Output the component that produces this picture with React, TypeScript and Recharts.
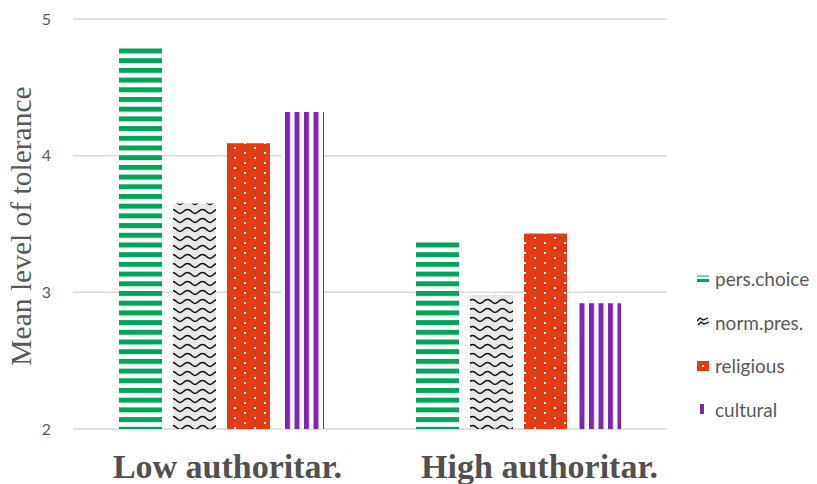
import React from 'react';
import { BarChart, Bar, XAxis, YAxis, CartesianGrid, Legend } from 'recharts';

const groups = ['Low authoritar.', 'High authoritar.'];
const persChoice = [4.8, 3.37];
const normPres = [3.65, 2.98];
const religious = [4.09, 3.43];
const cultural = [4.32, 2.92];
const yTicks = [2, 3, 4, 5];

const series = [
  { key: 'persChoice', name: 'pers.choice', fill: 'url(#stripeGreen)' },
  { key: 'normPres', name: 'norm.pres.', fill: 'url(#waveGrey)' },
  { key: 'religious', name: 'religious', fill: 'url(#dotsRed)' },
  { key: 'cultural', name: 'cultural', fill: 'url(#stripePurple)' },
];

const data = groups.map((g, i) => ({
  group: g,
  persChoice: persChoice[i],
  normPres: normPres[i],
  religious: religious[i],
  cultural: cultural[i],
}));

const GREEN = '#00a45a';
const RED = '#e23b16';
const PURPLE = '#7f24b4';
const TEXT = '#595959';

// the group captions sit a little right of their band centres
const TICK_NUDGE = [6, 21];

const LegendIcon = ({ name }: { name: string }) => {
  if (name === 'pers.choice') {
    return (
      <svg width={12} height={10} style={{ flexShrink: 0 }}>
        <rect x={0} y={1} width={12} height={2} fill="#7fd1a8" />
        <rect x={0} y={5} width={12} height={3} fill={GREEN} />
      </svg>
    );
  }
  if (name === 'norm.pres.') {
    return (
      <svg width={12} height={10} style={{ flexShrink: 0 }}>
        <rect width={12} height={10} fill="#eeeeee" />
        <path d="M0,4 L3,1 L6,3 L11,1" stroke="#111" strokeWidth={1.3} fill="none" />
        <path d="M1,8 L4,5 L7,7 L12,5" stroke="#111" strokeWidth={1.3} fill="none" />
      </svg>
    );
  }
  if (name === 'religious') {
    return (
      <svg width={12} height={10} style={{ flexShrink: 0 }}>
        <rect width={12} height={10} fill={RED} />
        <rect x={5} y={4} width={2} height={2} fill="#fff" />
      </svg>
    );
  }
  return (
    <svg width={12} height={10} style={{ flexShrink: 0 }}>
      <rect x={3} y={0} width={4} height={10} fill={PURPLE} />
    </svg>
  );
};

// custom legend keeps the series order and draws small pattern swatches
const renderLegend = () => (
  <div style={{ width: 122, paddingLeft: 30, boxSizing: 'border-box' }}>
    {series.map((s) => (
      <div
        key={s.key}
        style={{
          display: 'flex',
          alignItems: 'center',
          height: 43.5,
          fontFamily: 'Lato, sans-serif',
          fontSize: 19,
          color: TEXT,
          whiteSpace: 'nowrap',
        }}
      >
        <LegendIcon name={s.name} />
        <span style={{ marginLeft: 6 }}>{s.name}</span>
      </div>
    ))}
  </div>
);

const GroupTick = (props: any) => {
  const { x, y, payload, index } = props;
  return (
    <text
      x={x}
      y={y}
      dx={TICK_NUDGE[index] ?? 0}
      dy={24}
      textAnchor="middle"
      fontFamily="'Liberation Serif', 'Times New Roman', serif"
      fontWeight="bold"
      fontSize={34}
      fill="#505050"
    >
      {payload.value}
    </text>
  );
};

const AxisTitle = (props: any) => {
  const { viewBox } = props;
  const cx = 21;
  const cy = viewBox.y + viewBox.height / 2 + 2;
  return (
    <text
      x={cx}
      y={cy}
      transform={`rotate(-90 ${cx} ${cy})`}
      textAnchor="middle"
      dominantBaseline="central"
      fontFamily="'Liberation Serif', 'Times New Roman', serif"
      fontSize={29.5}
      fill={TEXT}
    >
      Mean level of tolerance
    </text>
  );
};

export default function App() {
  return (
    <div style={{ position: 'absolute', left: 0, top: 0, width: 817, height: 484, background: '#fff' }}>
      <BarChart
        width={817}
        height={484}
        data={data}
        margin={{ top: 19, right: 28, bottom: 0, left: 0 }}
        barSize={43}
        barGap={11}
      >
        <defs>
          <pattern id="stripeGreen" patternUnits="userSpaceOnUse" width={10} height={9.7}>
            <rect width={10} height={9.7} fill="#fff" />
            <rect y={0} width={10} height={5} fill={GREEN} />
          </pattern>
          <pattern id="waveGrey" patternUnits="userSpaceOnUse" width={15} height={9}>
            <rect width={15} height={9} fill="#e8e8e8" />
            <path
              d="M0,6.5 C3.5,6.5 3.5,2.5 7.5,2.5 C11.5,2.5 11.5,6.5 15,6.5"
              stroke="#111"
              strokeWidth={1.5}
              fill="none"
            />
          </pattern>
          <pattern id="dotsRed" patternUnits="userSpaceOnUse" width={20} height={10}>
            <rect width={20} height={10} fill={RED} />
            <rect x={4} y={2} width={2} height={2} fill="#fff" />
            <rect x={14} y={7} width={2} height={2} fill="#fff" />
          </pattern>
          <pattern id="stripePurple" patternUnits="userSpaceOnUse" width={9.5} height={10}>
            <rect width={9.5} height={10} fill="#fff" />
            <rect x={0} width={5} height={10} fill={PURPLE} />
          </pattern>
        </defs>
        <CartesianGrid vertical={false} stroke="#d9d9d9" strokeWidth={1.5} />
        <XAxis
          dataKey="group"
          axisLine={false}
          tickLine={false}
          tickSize={0}
          tickMargin={25}
          height={55}
          tick={<GroupTick />}
          interval={0}
        />
        <YAxis
          domain={[2, 5]}
          ticks={yTicks}
          axisLine={false}
          tickLine={false}
          tickSize={0}
          tickMargin={22}
          width={73}
          tick={{ fill: TEXT, fontSize: 16, fontFamily: 'Lato, sans-serif' }}
          label={<AxisTitle />}
        />
        <Legend
          layout="vertical"
          align="right"
          verticalAlign="middle"
          content={renderLegend}
          wrapperStyle={{ top: 257 }}
        />
        {series.map((s) => (
          <Bar key={s.key} dataKey={s.key} name={s.name} fill={s.fill} isAnimationActive={false} />
        ))}
      </BarChart>
    </div>
  );
}
